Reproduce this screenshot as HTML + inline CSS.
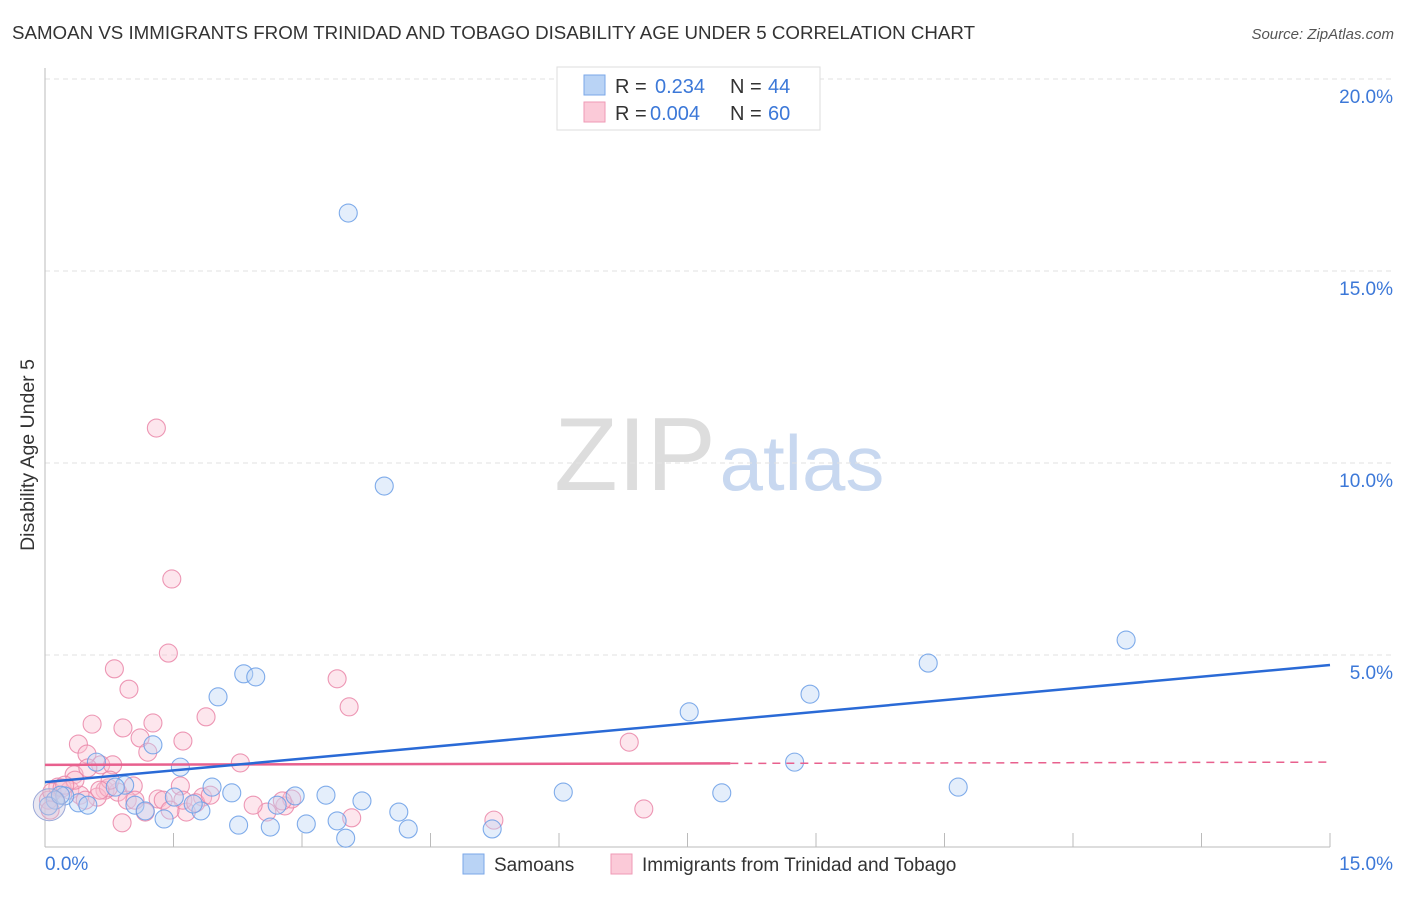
<!DOCTYPE html>
<html><head><meta charset="utf-8"><style>
body{margin:0;background:#fff;font-family:"Liberation Sans",sans-serif;}
svg text{font-family:"Liberation Sans",sans-serif;}
</style></head><body>
<svg width="1406" height="892" viewBox="0 0 1406 892">
<text x="12" y="39" font-size="18" fill="#333" textLength="963" lengthAdjust="spacingAndGlyphs">SAMOAN VS IMMIGRANTS FROM TRINIDAD AND TOBAGO DISABILITY AGE UNDER 5 CORRELATION CHART</text>
<text x="1394" y="39" font-size="15" fill="#555" font-style="italic" text-anchor="end">Source: ZipAtlas.com</text>
<g><text x="635" y="490" font-size="104" fill="#ddd" font-family="Liberation Serif" text-anchor="middle">ZIP</text><text x="802" y="490" font-size="78" fill="#c8d8f0" text-anchor="middle">atlas</text></g>
<g id="grid"></g>
<g id="axes"></g>
<text transform="translate(34,455) rotate(-90)" font-size="19.5" fill="#333" text-anchor="middle">Disability Age Under 5</text>
<g id="marks"></g>
<g>
<rect x="557" y="67" width="263" height="63" fill="#fff" stroke="#ddd"/>
<rect x="584" y="75" width="21" height="20" fill="#b9d3f5" stroke="#7aa7e8"/>
<rect x="584" y="102" width="21" height="20" fill="#fbcad8" stroke="#ef9ab6"/>
<text x="615" y="93" font-size="20" fill="#333">R = </text><text x="655" y="93" font-size="20" fill="#3c78d8">0.234</text>
<text x="730" y="93" font-size="20" fill="#333">N = </text><text x="768" y="93" font-size="20" fill="#3c78d8">44</text>
<text x="615" y="120" font-size="20" fill="#333">R = </text><text x="650" y="120" font-size="20" fill="#3c78d8">0.004</text>
<text x="730" y="120" font-size="20" fill="#333">N = </text><text x="768" y="120" font-size="20" fill="#3c78d8">60</text>
</g>
<g>
<rect x="463" y="854" width="21" height="20" fill="#b9d3f5" stroke="#7aa7e8"/>
<text x="494" y="871" font-size="19" fill="#333">Samoans</text>
<rect x="611" y="854" width="21" height="20" fill="#fbcad8" stroke="#ef9ab6"/>
<text x="642" y="871" font-size="19" fill="#333">Immigrants from Trinidad and Tobago</text>
</g>
</svg>
<script>
const blueX=[3.54,3.96,12.62,10.31,8.93,7.52,2.32,2.46,2.02,1.26,1.58,8.75,1.95,2.18,6.05,7.90,10.66,3.28,3.70,2.92,4.13,2.71,1.82,1.51,1.73,1.05,1.17,0.93,0.82,0.60,0.39,0.50,0.23,0.12,2.26,2.63,3.05,3.41,4.24,5.22,3.51,1.39,0.04,0.18];
const blueY=[16.51,9.40,5.39,4.79,3.98,3.52,4.51,4.43,3.91,2.66,2.08,2.21,1.56,1.41,1.43,1.41,1.56,1.35,1.20,1.33,0.91,1.09,0.94,1.30,1.12,1.09,0.94,1.61,1.56,2.21,1.15,1.09,1.33,1.22,0.57,0.52,0.60,0.68,0.47,0.47,0.23,0.73,1.07,1.35];
const pinkX=[1.30,1.48,1.44,0.81,0.98,3.41,3.55,1.88,0.55,0.91,1.26,1.11,1.61,0.39,0.49,1.20,2.28,0.65,0.79,6.82,0.34,0.50,0.15,0.29,0.70,0.85,1.03,1.32,1.58,1.84,2.59,2.80,2.88,3.58,5.24,6.99,0.90,1.17,1.65,0.04,0.08,0.20,0.41,0.61,0.74,0.96,1.61,1.76,2.43,2.77,1.38,0.76,0.35,0.23,0.06,0.47,0.64,1.05,1.46,1.93];
const pinkY=[10.91,6.98,5.05,4.64,4.11,4.38,3.65,3.39,3.20,3.10,3.23,2.84,2.76,2.68,2.42,2.47,2.19,2.14,2.14,2.73,1.88,2.06,1.56,1.48,1.48,1.43,1.59,1.25,1.59,1.30,0.91,1.07,1.25,0.76,0.70,0.99,0.63,0.91,0.91,1.22,1.43,1.54,1.35,1.30,1.54,1.22,1.22,1.15,1.09,1.20,1.22,1.74,1.74,1.61,0.96,1.22,1.48,1.22,0.96,1.35];
const blueTrend=[1.69,4.74];
const pinkTrend=[2.14,2.21];
const pinkSolidEnd=8.0;
const yTicks=[5,10,15,20];
const xTickLabels=["0.0%","15.0%"];
const NS="http://www.w3.org/2000/svg";
const X0=45,X1=1330,Y0=847,PX_PER_PCT=38.4;
const sx=v=>X0+v*(X1-X0)/15;
const sy=v=>Y0-v*PX_PER_PCT;
function mk(tag,attrs,parent){const e=document.createElementNS(NS,tag);for(const k in attrs)e.setAttribute(k,attrs[k]);parent.appendChild(e);return e;}
const grid=document.getElementById('grid'),axes=document.getElementById('axes'),marks=document.getElementById('marks');
yTicks.forEach(t=>{
 const l=mk('line',{x1:X0,x2:1394,y1:sy(t),y2:sy(t),stroke:'#e2e2e2','stroke-dasharray':'5,4'},grid);
 
 
 const tx=mk('text',{x:1393,y:sy(t)+24,'font-size':19,fill:'#3c78d8','text-anchor':'end'},axes);
 tx.textContent=t.toFixed(1)+'%';
 
 
});
const ya=mk('line',{x1:X0,x2:X0,y1:68,y2:Y0,stroke:'#bbb'},axes);


const xa=mk('line',{x1:X0,x2:X1,y1:Y0,y2:Y0,stroke:'#bbb'},axes);


for(let i=1;i<=10;i++){const t=mk('line',{x1:sx(i*1.5),x2:sx(i*1.5),y1:Y0-14,y2:Y0,stroke:'#bbb'},axes);
 
 }
const xl0=mk('text',{x:45,y:870,'font-size':19,fill:'#3c78d8'},axes);xl0.textContent=xTickLabels[0];


const xl1=mk('text',{x:1393,y:870,'font-size':19,fill:'#3c78d8','text-anchor':'end'},axes);xl1.textContent=xTickLabels[1];


function dots(xs,ys,fill,stroke,name){xs.forEach((x,i)=>{const c=mk('circle',{cx:sx(x),cy:sy(ys[i]),r:9,fill:fill,'fill-opacity':0.4,stroke:stroke,'stroke-width':1.1,'stroke-opacity':0.85},marks);
 
 });}
dots(pinkX,pinkY,'#f9c0d2','#ea86a8','point-trinidad');
dots(blueX,blueY,'#bcd5f4','#6a9ee6','point-samoan');
const big1=mk('circle',{cx:sx(0.05),cy:sy(1.1),r:16,fill:'#c9c3dd','fill-opacity':0.4,stroke:'#9aa8d8'},marks);


const pl=mk('line',{x1:sx(0),x2:sx(pinkSolidEnd),y1:sy(pinkTrend[0]),y2:sy(pinkTrend[0]+(pinkTrend[1]-pinkTrend[0])*pinkSolidEnd/15),stroke:'#e8608e','stroke-width':2.5},marks);


const pd=mk('line',{x1:sx(pinkSolidEnd),x2:sx(15),y1:sy(pinkTrend[0]+(pinkTrend[1]-pinkTrend[0])*pinkSolidEnd/15),y2:sy(pinkTrend[1]),stroke:'#e8608e','stroke-width':1.5,'stroke-dasharray':'8,6'},marks);


const bl=mk('line',{x1:sx(0),x2:sx(15),y1:sy(blueTrend[0]),y2:sy(blueTrend[1]),stroke:'#2a6ad6','stroke-width':2.5},marks);


</script>
</body></html>
